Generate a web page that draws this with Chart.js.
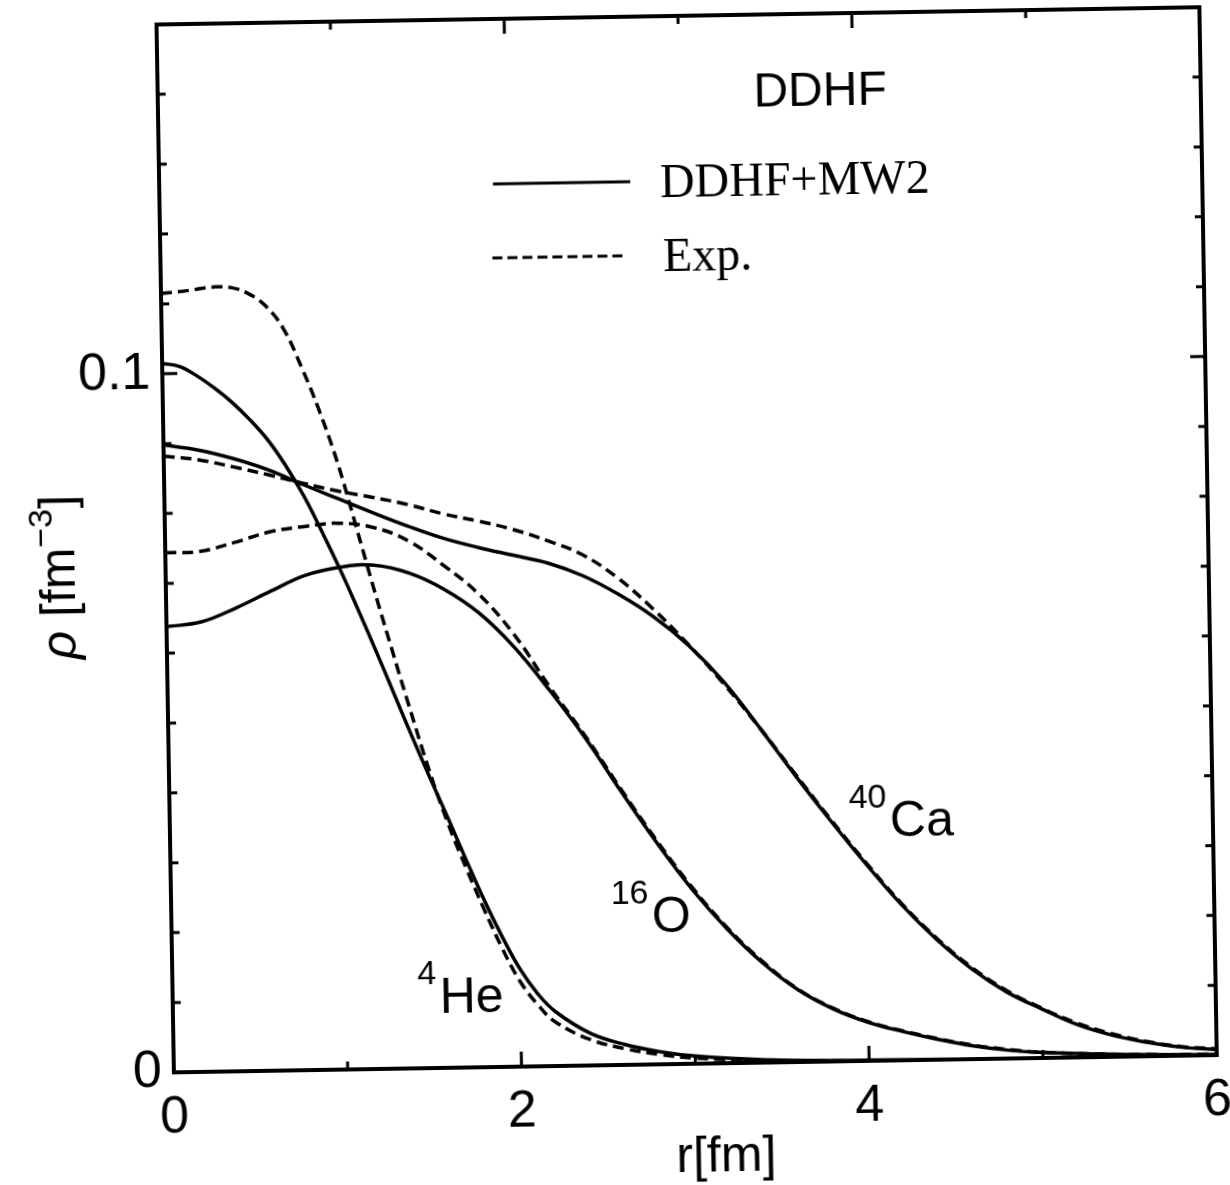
<!DOCTYPE html>
<html>
<head>
<meta charset="utf-8">
<script src="https://cdn.jsdelivr.net/npm/chart.js@4.4.1/dist/chart.umd.min.js"></script>
<style>
  html, body { margin: 0; padding: 0; background: #fff; overflow: hidden; }
  #wrap { width: 1230px; height: 1185px; position: relative; overflow: hidden; }
  #chartCanvas { display: block; transform: rotate(-0.95deg); transform-origin: 50% 50%; }
</style>
</head>
<body>
<div id="wrap"><canvas id="chartCanvas" width="1230" height="1185"></canvas></div>
<script>
// r grids [fm] and densities [fm^-3]
const rHe = [0, 0.1, 0.2, 0.3, 0.4, 0.5, 0.6, 0.7, 0.8, 0.9, 1.0, 1.1, 1.2, 1.3, 1.4, 1.5, 1.6, 1.7, 1.8, 1.9, 2.0, 2.1, 2.2, 2.4, 2.6, 2.8, 3.0, 3.4, 4.0, 5.0, 6.0];
const heCalc = [0.1015, 0.1010, 0.0996, 0.0978, 0.0957, 0.0932, 0.0903, 0.0866, 0.0823, 0.0772, 0.0718, 0.0660, 0.0600, 0.0538, 0.0476, 0.0416, 0.0358, 0.0298, 0.0240, 0.0187, 0.0140, 0.0104, 0.0078, 0.0046, 0.0029, 0.0018, 0.0011, 0.0004, 0.0001, 0, 0];
const heExp = [0.1115, 0.1117, 0.1120, 0.1123, 0.1122, 0.1113, 0.1095, 0.1062, 0.1007, 0.0943, 0.0868, 0.0777, 0.0684, 0.0595, 0.0508, 0.0424, 0.0350, 0.0286, 0.0226, 0.0170, 0.0122, 0.0088, 0.0063, 0.0037, 0.0023, 0.0014, 0.0008, 0.0003, 0, 0, 0];

const rO = [0, 0.2, 0.4, 0.6, 0.8, 1.0, 1.2, 1.4, 1.6, 1.8, 2.0, 2.2, 2.4, 2.6, 2.8, 3.0, 3.2, 3.4, 3.6, 3.8, 4.0, 4.2, 4.4, 4.6, 4.8, 5.0, 5.5, 6.0];
const oCalc = [0.0638, 0.0644, 0.0663, 0.0686, 0.0708, 0.0719, 0.0721, 0.0709, 0.0685, 0.0650, 0.0600, 0.0537, 0.0468, 0.0391, 0.0317, 0.0249, 0.0191, 0.0142, 0.0103, 0.0075, 0.0055, 0.0041, 0.0029, 0.0019, 0.0012, 0.0008, 0.0003, 0.0001];
const oExp = [0.0744, 0.0745, 0.0757, 0.0771, 0.0778, 0.0782, 0.0775, 0.0755, 0.0719, 0.0677, 0.0618, 0.0542, 0.0471, 0.0394, 0.0320, 0.0252, 0.0193, 0.0144, 0.0104, 0.0076, 0.0056, 0.0042, 0.0030, 0.0020, 0.0013, 0.0008, 0.0003, 0.0001];

const rCa = [0, 0.2, 0.4, 0.6, 0.8, 1.0, 1.2, 1.4, 1.6, 1.8, 2.0, 2.2, 2.4, 2.6, 2.8, 3.0, 3.2, 3.4, 3.6, 3.8, 4.0, 4.2, 4.4, 4.6, 4.8, 5.0, 5.2, 5.4, 5.6, 5.8, 6.0];
const caCalc = [0.0898, 0.0890, 0.0877, 0.0860, 0.0838, 0.0817, 0.0796, 0.0776, 0.0758, 0.0744, 0.0732, 0.0720, 0.0701, 0.0674, 0.0641, 0.0599, 0.0546, 0.0480, 0.0411, 0.0345, 0.0282, 0.0223, 0.0172, 0.0129, 0.0095, 0.0070, 0.0047, 0.0031, 0.0020, 0.0012, 0.0008];
const caExp = [0.0882, 0.0876, 0.0865, 0.0853, 0.0840, 0.0828, 0.0818, 0.0807, 0.0793, 0.0782, 0.0769, 0.0752, 0.0731, 0.0697, 0.0652, 0.0600, 0.0543, 0.0480, 0.0413, 0.0347, 0.0284, 0.0225, 0.0174, 0.0131, 0.0097, 0.0071, 0.0049, 0.0033, 0.0021, 0.0013, 0.0009];

// axis ticks
const xTickValues = [0, 1, 2, 3, 4, 5, 6];
const xTickLabels = ['0', '', '2', '', '4', '', '6'];
const yTickValues = [0, 0.01, 0.02, 0.03, 0.04, 0.05, 0.06, 0.07, 0.08, 0.09, 0.1, 0.11, 0.12, 0.13, 0.14, 0.15];
const yTickLabels = ['0', '', '', '', '', '', '', '', '', '', '0.1', '', '', '', '', ''];

const SANS = "'Liberation Sans', Arial, sans-serif";
const SERIF = "'Liberation Serif', 'Times New Roman', serif";

function pts(rs, vals) {
    return rs.map((r, i) => ({ x: r, y: vals[i] }));
}

function curve(label, rs, vals, dashed) {
    return {
        label: label,
        data: pts(rs, vals),
        borderColor: '#000',
        borderWidth: 3.5,
        borderDash: dashed ? [11, 6] : [],
        pointRadius: 0,
        fill: false,
        tension: 0.4
    };
}

function labelFor(values, labels, v) {
    const i = values.findIndex(t => Math.abs(t - v) < 1e-6);
    return i >= 0 ? labels[i] : '';
}

// frame, inward ticks, legend and in-plot labels
const decorations = {
    id: 'decorations',
    afterDraw(chart) {
        const ctx = chart.ctx;
        const a = chart.chartArea;
        const x = chart.scales.x;
        const y = chart.scales.y;
        ctx.save();
        ctx.strokeStyle = '#000';
        ctx.fillStyle = '#000';

        ctx.lineWidth = 4;
        ctx.strokeRect(a.left, a.top, a.right - a.left, a.bottom - a.top);

        ctx.lineWidth = 3;
        ctx.beginPath();
        xTickValues.forEach(v => {
            const px = x.getPixelForValue(v);
            const len = v % 2 === 0 ? 15 : 8;
            ctx.moveTo(px, a.bottom); ctx.lineTo(px, a.bottom - len);
            ctx.moveTo(px, a.top); ctx.lineTo(px, a.top + len);
        });
        yTickValues.forEach(v => {
            const py = y.getPixelForValue(v);
            const len = Math.abs(v - 0.1) < 1e-6 ? 15 : 8;
            ctx.moveTo(a.left, py); ctx.lineTo(a.left + len, py);
            ctx.moveTo(a.right, py); ctx.lineTo(a.right - len, py);
        });
        ctx.stroke();

        // title inside the frame
        ctx.font = '48px ' + SANS;
        ctx.textAlign = 'center';
        ctx.textBaseline = 'alphabetic';
        ctx.fillText('DDHF', x.getPixelForValue(3.81), y.getPixelForValue(0.1393) + 17);

        // legend
        ctx.beginPath();
        ctx.moveTo(x.getPixelForValue(1.92), y.getPixelForValue(0.1264));
        ctx.lineTo(x.getPixelForValue(2.71), y.getPixelForValue(0.1264));
        ctx.stroke();
        ctx.setLineDash([10, 5]);
        ctx.beginPath();
        ctx.moveTo(x.getPixelForValue(1.91), y.getPixelForValue(0.1158));
        ctx.lineTo(x.getPixelForValue(2.67), y.getPixelForValue(0.1158));
        ctx.stroke();
        ctx.setLineDash([]);
        ctx.font = '48px ' + SERIF;
        ctx.textAlign = 'left';
        ctx.fillText('DDHF+MW2', x.getPixelForValue(2.88), y.getPixelForValue(0.1264) + 16);
        ctx.fillText('Exp.', x.getPixelForValue(2.89), y.getPixelForValue(0.1158) + 16);

        // nucleus labels
        [['4', 'He', 1.536, 0.0079], ['16', 'O', 2.764, 0.0189], ['40', 'Ca', 4.142, 0.0320]].forEach(n => {
            const px = x.getPixelForValue(n[2]);
            const py = y.getPixelForValue(n[3]);
            ctx.font = '50px ' + SANS;
            ctx.textAlign = 'left';
            ctx.fillText(n[1], px, py);
            ctx.font = '34px ' + SANS;
            ctx.textAlign = 'right';
            ctx.fillText(n[0], px - 3, py - 29);
        });

        // x axis title
        ctx.font = '50px ' + SANS;
        ctx.textAlign = 'center';
        ctx.textBaseline = 'middle';
        ctx.fillText('r[fm]', x.getPixelForValue(3.17), a.bottom + 94);

        // y axis title: rho [fm^-3]
        const parts = [
            ['ρ', 'italic 50px ' + SANS, 0],
            [' [fm', '50px ' + SANS, 0],
            ['−3', '34px ' + SANS, -22],
            [']', '50px ' + SANS, 0]
        ];
        let total = 0;
        parts.forEach(p => { ctx.font = p[1]; total += ctx.measureText(p[0]).width; });
        ctx.translate(57, (a.top + a.bottom) / 2 + 27);
        ctx.rotate(-Math.PI / 2);
        ctx.textAlign = 'left';
        ctx.textBaseline = 'alphabetic';
        let cx = -total / 2;
        parts.forEach(p => {
            ctx.font = p[1];
            ctx.fillText(p[0], cx, 18 + p[2]);
            cx += ctx.measureText(p[0]).width;
        });
        ctx.restore();
    }
};

const ctx = document.getElementById('chartCanvas').getContext('2d');
const myChart = new Chart(ctx, {
    type: 'line',
    data: {
        datasets: [
            curve('4He DDHF+MW2', rHe, heCalc, false),
            curve('4He Exp.', rHe, heExp, true),
            curve('16O DDHF+MW2', rO, oCalc, false),
            curve('16O Exp.', rO, oExp, true),
            curve('40Ca DDHF+MW2', rCa, caCalc, false),
            curve('40Ca Exp.', rCa, caExp, true)
        ]
    },
    options: {
        responsive: false,
        animation: false,
        devicePixelRatio: 1,
        layout: { padding: { top: 17, right: 21, left: 0, bottom: 0 } },
        plugins: {
            legend: { display: false },
            tooltip: { enabled: false }
        },
        scales: {
            x: {
                type: 'linear',
                min: 0,
                max: 6,
                grid: { display: false, drawTicks: false },
                border: { display: false },
                afterFit: s => {
                    s.height = 120;
                    s.paddingLeft = 0;
                    s.paddingRight = 0;
                },
                afterBuildTicks: s => { s.ticks = xTickValues.map(v => ({ value: v })); },
                ticks: {
                    autoSkip: false,
                    maxRotation: 0,
                    padding: 14,
                    color: '#000',
                    font: { family: SANS, size: 52 },
                    callback: v => labelFor(xTickValues, xTickLabels, v)
                }
            },
            y: {
                type: 'linear',
                min: 0,
                max: 0.15,
                grid: { display: false, drawTicks: false },
                border: { display: false },
                afterFit: s => {
                    s.width = 166;
                    s.paddingTop = 0;
                    s.paddingBottom = 0;
                },
                afterBuildTicks: s => { s.ticks = yTickValues.map(v => ({ value: v })); },
                ticks: {
                    autoSkip: false,
                    padding: 12,
                    color: '#000',
                    font: { family: SANS, size: 52 },
                    callback: v => labelFor(yTickValues, yTickLabels, v)
                }
            }
        }
    },
    plugins: [decorations]
});
</script>
</body>
</html>
